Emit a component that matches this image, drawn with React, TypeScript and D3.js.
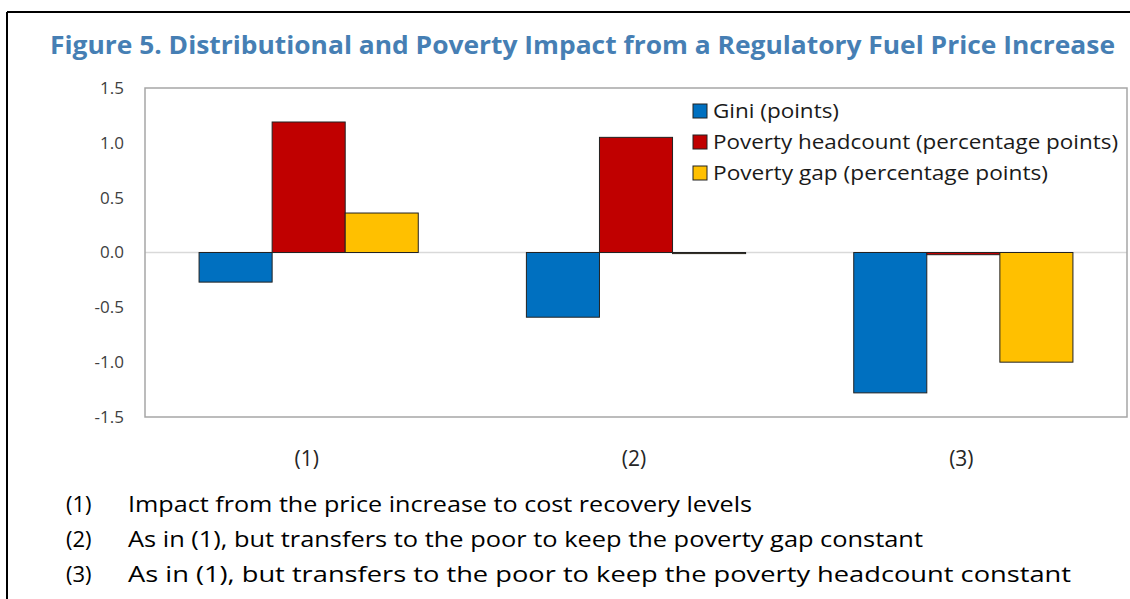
import React from "react";
import * as d3 from "d3";

const categories = ["(1)", "(2)", "(3)"];
const seriesNames = [
  "Gini (points)",
  "Poverty headcount (percentage points)",
  "Poverty gap (percentage points)",
];
const giniValues = [-0.27, -0.59, -1.28];
const headcountValues = [1.19, 1.05, -0.02];
const gapValues = [0.36, -0.01, -1.0];
const yTicks = [1.5, 1.0, 0.5, 0.0, -0.5, -1.0, -1.5];
const notes = [
  "Impact from the price increase to cost recovery levels",
  "As in (1), but transfers to the poor to keep the poverty gap constant",
  "As in (1), but transfers to the poor to keep the poverty headcount constant",
];
const noteWidths = [624, 795, 943];
const legendWidths = [126, 405, 335];

const colors = ["#0070C0", "#C00000", "#FFC000"];
const FONT = "'Open Sans', 'Noto Sans', sans-serif";

export default function App() {
  const W = 1130, H = 599;
  const left = 145, right = 1127, top = 88, bottom = 417;
  const x = d3.scaleBand<string>().domain(categories).range([left, right]).padding(0);
  const inner = d3
    .scaleBand<number>()
    .domain([0, 1, 2])
    .range([0, x.bandwidth()])
    .paddingInner(0)
    .paddingOuter(0.74);
  const y = d3.scaleLinear().domain([-1.5, 1.5]).range([bottom, top]);
  const series = [giniValues, headcountValues, gapValues];
  const fmt = (t: number) => d3.format(".1f")(t).replace("\u2212", "-");

  return (
    <svg width={W} height={H} style={{ display: "block", position: "absolute", left: 0, top: 0 }}>
      <rect x={0} y={0} width={W} height={H} fill="#fff" />
      {/* outer frame */}
      <line x1={7} y1={12} x2={W} y2={12} stroke="#000" strokeWidth={2} />
      <line x1={7} y1={12} x2={7} y2={H} stroke="#000" strokeWidth={2} />
      {/* title */}
      <text
        x={50}
        y={54}
        fontFamily={FONT}
        fontWeight="bold"
        fontSize={25}
        fill="#467FB4"
        textLength={1065}
        lengthAdjust="spacingAndGlyphs"
      >
        Figure 5. Distributional and Poverty Impact from a Regulatory Fuel Price Increase
      </text>
      {/* zero line */}
      <line x1={left} x2={right} y1={y(0)} y2={y(0)} stroke="#d9d9d9" strokeWidth={1.5} />
      {/* bars */}
      {series.map((vals, si) =>
        vals.map((v, ci) => {
          const bx = (x(categories[ci]) as number) + (inner(si) as number);
          const y0 = y(Math.max(0, v));
          const h = Math.abs(y(v) - y(0));
          return (
            <rect
              key={`${si}-${ci}`}
              x={bx}
              y={y0}
              width={inner.bandwidth()}
              height={Math.max(h, 0.5)}
              fill={colors[si]}
              stroke="#222"
              strokeWidth={1}
            />
          );
        })
      )}
      {/* plot border */}
      <rect x={left} y={top} width={right - left} height={bottom - top} fill="none" stroke="#a6a6a6" strokeWidth={1.5} />
      {/* y ticks */}
      {yTicks.map((t) => (
        <text
          key={t}
          x={124}
          y={y(t)}
          dy="0.35em"
          textAnchor="end"
          fontFamily={FONT}
          fontSize={17}
          fill="#404040"
        >
          {fmt(t)}
        </text>
      ))}
      {/* category labels */}
      {categories.map((c) => (
        <text
          key={c}
          x={(x(c) as number) + x.bandwidth() / 2 - 2}
          y={466}
          textAnchor="middle"
          fontFamily={FONT}
          fontSize={21}
          fill="#262626"
        >
          {c}
        </text>
      ))}
      {/* legend */}
      {seriesNames.map((n, i) => (
        <g key={n} transform={`translate(693, ${111 + i * 31})`}>
          <rect x={0} y={-7} width={14} height={14} fill={colors[i]} stroke="#222" strokeWidth={1} />
          <text
            x={20}
            y={0}
            dy="0.35em"
            fontFamily={FONT}
            fontSize={20}
            fill="#1a1a1a"
            textLength={legendWidths[i]}
            lengthAdjust="spacingAndGlyphs"
          >
            {n}
          </text>
        </g>
      ))}
      {/* footnotes */}
      {notes.map((n, i) => (
        <g key={i}>
          <text x={66} y={512 + i * 35} fontFamily={FONT} fontSize={22} fill="#000">
            {categories[i]}
          </text>
          <text
            x={128}
            y={512 + i * 35}
            fontFamily={FONT}
            fontSize={22}
            fill="#000"
            textLength={noteWidths[i]}
            lengthAdjust="spacingAndGlyphs"
          >
            {n}
          </text>
        </g>
      ))}
    </svg>
  );
}
